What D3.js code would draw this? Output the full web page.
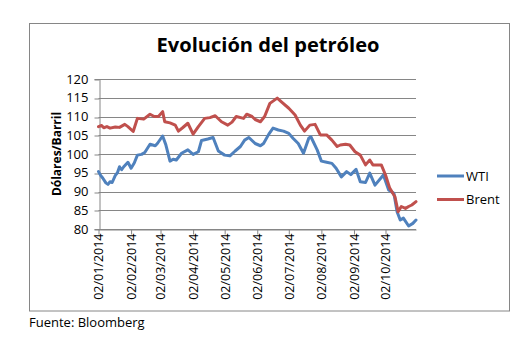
<!DOCTYPE html>
<html>
<head>
<meta charset="utf-8">
<script src="https://cdn.jsdelivr.net/npm/d3@7"></script>
<style>
  html, body { margin: 0; padding: 0; background: #fff; }
  text { font-family: "Open Sans", "Liberation Sans", sans-serif; fill: #000; }
</style>
</head>
<body>
<svg id="chart" width="522" height="338"></svg>
<script>
// ---- data ----
const title = "Evolución del petróleo";
const yTitle = "Dólares/Barril";
const source = "Fuente: Bloomberg";
const seriesNames = ["WTI", "Brent"];
const yTicks = [80, 85, 90, 95, 100, 105, 110, 115, 120];
const xTickDates = ["2014-01-02","2014-02-02","2014-03-02","2014-04-02","2014-05-02",
                    "2014-06-02","2014-07-02","2014-08-02","2014-09-02","2014-10-02"];
const xDomain = ["2014-01-02", "2014-10-31"];

const wtiDates = ["2014-01-02","2014-01-04","2014-01-06","2014-01-09","2014-01-11","2014-01-13","2014-01-15","2014-01-18","2014-01-20","2014-01-22","2014-01-24","2014-01-26","2014-01-30",
  "2014-02-02","2014-02-05","2014-02-08","2014-02-12","2014-02-15","2014-02-20","2014-02-25","2014-02-27",
  "2014-03-04","2014-03-07","2014-03-11","2014-03-14","2014-03-17","2014-03-22","2014-03-28",
  "2014-04-02","2014-04-07","2014-04-10","2014-04-16","2014-04-21","2014-04-26",
  "2014-05-02","2014-05-07","2014-05-12","2014-05-17","2014-05-21","2014-05-25","2014-05-31",
  "2014-06-05","2014-06-08","2014-06-13","2014-06-17","2014-06-22","2014-06-27",
  "2014-07-02","2014-07-06","2014-07-11","2014-07-16","2014-07-21","2014-07-23","2014-07-29",
  "2014-08-02","2014-08-07","2014-08-12","2014-08-16","2014-08-21","2014-08-26","2014-08-30",
  "2014-09-04","2014-09-08","2014-09-13","2014-09-17","2014-09-22","2014-09-30",
  "2014-10-05","2014-10-10","2014-10-13","2014-10-16","2014-10-19","2014-10-24","2014-10-28","2014-10-31"];
const wtiValues = [95.3,94.3,93.6,92.3,91.9,92.6,92.4,94.3,95.0,96.6,95.8,96.6,97.8,
  96.2,97.6,99.7,99.9,100.4,102.6,102.2,102.8,
  104.8,102.5,98.1,98.6,98.4,100.2,101.1,
  99.9,100.6,103.6,104.0,104.4,100.8,
  99.7,99.5,100.8,102.0,103.7,104.4,102.8,
  102.2,102.8,105.3,106.9,106.4,106.1,
  105.5,104.2,102.8,100.2,104.2,104.6,101.1,
  98.1,97.8,97.5,96.2,93.9,95.3,94.5,
  95.9,92.6,92.4,94.9,91.7,94.4,
  90.4,89.5,84.6,82.4,82.9,80.8,81.5,82.4];

const brentDates = ["2014-01-02","2014-01-05","2014-01-07","2014-01-10","2014-01-13","2014-01-18","2014-01-22","2014-01-27","2014-01-30",
  "2014-02-04","2014-02-08","2014-02-14","2014-02-20","2014-02-24","2014-02-28",
  "2014-03-04","2014-03-06","2014-03-11","2014-03-16","2014-03-19","2014-03-23","2014-03-28",
  "2014-04-02","2014-04-07","2014-04-13","2014-04-18","2014-04-23","2014-04-29",
  "2014-05-05","2014-05-09","2014-05-13","2014-05-20","2014-05-23","2014-05-28","2014-05-31",
  "2014-06-05","2014-06-09","2014-06-14","2014-06-21","2014-06-25",
  "2014-07-02","2014-07-08","2014-07-13","2014-07-17","2014-07-22","2014-07-27",
  "2014-08-01","2014-08-07","2014-08-12","2014-08-17","2014-08-20","2014-08-25","2014-08-29",
  "2014-09-03","2014-09-08","2014-09-13","2014-09-17","2014-09-20","2014-09-28",
  "2014-10-02","2014-10-06","2014-10-11","2014-10-14","2014-10-17","2014-10-21","2014-10-24","2014-10-27","2014-10-31"];
const brentValues = [107.3,107.6,107.0,107.3,106.9,107.2,107.1,107.9,107.3,
  106.0,109.5,109.3,110.6,110.0,110.0,
  111.3,108.6,108.3,107.7,106.1,107.0,108.2,
  105.3,107.3,109.5,109.7,110.2,108.6,
  107.7,108.5,110.0,109.5,110.6,110.0,109.2,
  108.6,110.0,113.5,114.9,113.9,
  112.2,110.4,107.7,106.1,107.7,107.9,
  105.1,105.1,103.7,102.0,102.4,102.6,102.4,
  100.6,99.7,97.1,98.4,97.1,97.1,
  94.4,90.9,88.6,84.6,86.0,85.5,86.0,86.4,87.3];

// ---- drawing ----
const parse = d3.timeParse("%Y-%m-%d");
const fmt = d3.timeFormat("%d/%m/%Y");
const colors = { WTI: "#4F81BD", Brent: "#C0504D" };
const gridColor = "#868686";

const svg = d3.select("#chart");
const plot = { left: 98.5, right: 416, top: 79, bottom: 229 };

// outer chart border
svg.append("rect")
  .attr("x", 29.5).attr("y", 23.5).attr("width", 480).attr("height", 287.5)
  .attr("fill", "none").attr("stroke", gridColor).attr("stroke-width", 1);

const x = d3.scaleTime().domain(xDomain.map(parse)).range([plot.left, plot.right]);
const y = d3.scaleLinear().domain([80, 120]).range([plot.bottom, plot.top]);

// gridlines
svg.append("g").selectAll("line").data(yTicks).join("line")
  .attr("x1", plot.left).attr("x2", plot.right)
  .attr("y1", d => Math.round(y(d)) + 0.5).attr("y2", d => Math.round(y(d)) + 0.5)
  .attr("stroke", gridColor).attr("stroke-width", 1);

// y axis
const yAxis = svg.append("g")
  .attr("transform", `translate(${Math.round(plot.left) + 0.5},0)`)
  .call(d3.axisLeft(y).tickValues(yTicks).tickSize(5).tickPadding(6));
yAxis.select(".domain").attr("stroke", gridColor);
yAxis.selectAll(".tick line").attr("stroke", gridColor)
  .attr("transform", (d) => `translate(0,${Math.round(y(d)) + 0.5 - y(d)})`);
yAxis.selectAll(".tick text").style("font-size", "13px").attr("fill", "#000")
  .style("font-family", '"Open Sans", sans-serif');

// x axis
const xAxis = svg.append("g")
  .attr("transform", `translate(0,${Math.round(plot.bottom) + 0.5})`)
  .call(d3.axisBottom(x).tickValues(xTickDates.map(parse)).tickFormat(fmt).tickSize(5).tickSizeOuter(0));
xAxis.select(".domain").attr("stroke", gridColor);
xAxis.selectAll(".tick line").attr("stroke", gridColor);
xAxis.selectAll(".tick text")
  .style("font-size", "12.5px").attr("fill", "#000")
  .attr("transform", "rotate(-90)")
  .attr("text-anchor", "end")
  .attr("x", -4).attr("y", 0).attr("dy", "0.35em");

// lines
const line = d3.line().x(d => x(d[0])).y(d => y(d[1]));
const series = [
  { name: "WTI", pts: wtiDates.map((d, i) => [parse(d), wtiValues[i]]) },
  { name: "Brent", pts: brentDates.map((d, i) => [parse(d), brentValues[i]]) }
];
svg.append("g").selectAll("path").data(series).join("path")
  .attr("d", s => line(s.pts))
  .attr("fill", "none")
  .attr("stroke", s => colors[s.name])
  .attr("stroke-width", 3)
  .attr("stroke-linejoin", "round")
  .attr("stroke-linecap", "round");

// legend
const legend = svg.append("g");
seriesNames.forEach((n, i) => {
  const ly = 176 + i * 23.5;
  legend.append("line").attr("x1", 437).attr("x2", 464).attr("y1", ly).attr("y2", ly)
    .attr("stroke", colors[n]).attr("stroke-width", 3);
  legend.append("text").attr("x", 466).attr("y", ly).attr("dy", "0.36em")
    .style("font-size", "13px").text(n);
});

// title
const t = svg.append("text").attr("x", 268).attr("y", 52)
  .attr("text-anchor", "middle").style("font-size", "22px").style("font-weight", "bold")
  .text(title);
const tw = t.node().getComputedTextLength();
t.style("font-size", (22 * 223 / tw).toFixed(2) + "px");

// y title
svg.append("text")
  .attr("transform", `translate(61,${(plot.top + plot.bottom) / 2}) rotate(-90)`)
  .attr("text-anchor", "middle")
  .style("font-size", "12px").style("font-weight", "bold")
  .text(yTitle);

// source
svg.append("text").attr("x", 29).attr("y", 327)
  .style("font-size", "13px").text(source);
</script>
</body>
</html>
